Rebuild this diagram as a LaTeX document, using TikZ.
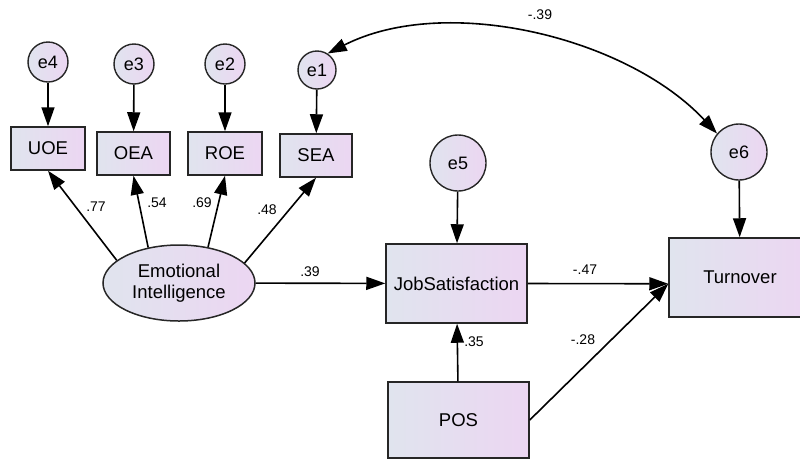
\documentclass[tikz,border=0pt]{standalone}
\usepackage{fontspec}
\setmainfont{Liberation Sans}
\usetikzlibrary{arrows.meta,shapes.geometric}

\definecolor{fillL}{RGB}{224,228,238}
\definecolor{fillR}{RGB}{236,214,242}

\tikzset{
  obs/.style={draw=black!85, line width=1.5pt, rectangle, left color=fillL, right color=fillR,
    font=\fontsize{18.5}{22}\selectfont, inner sep=0pt},
  err/.style={draw=black!85, line width=1.4pt, circle, left color=fillL, right color=fillR,
    font=\fontsize{18}{20}\selectfont, inner sep=0pt},
  lat/.style={draw=black!85, line width=1.5pt, ellipse, left color=fillL, right color=fillR,
    font=\fontsize{18.5}{21.5}\selectfont, align=center, inner sep=0pt},
  reg/.style={-{Triangle[length=19pt,width=13pt]}, line width=1.6pt},
  cov/.style={{Triangle[length=19pt,width=13pt]}-{Triangle[length=19pt,width=13pt]}, line width=1.6pt},
  coef/.style={font=\fontsize{14}{14}\selectfont, inner sep=0pt}
}

\begin{document}
\begin{tikzpicture}[x=1pt, y=-1pt]
  \clip (0,0) rectangle (800,459);

  % indicators and their errors
  \node[obs, minimum width=74, minimum height=43] (uoe) at (48,148.5) {UOE};
  \node[obs, minimum width=73, minimum height=43] (oea) at (133.5,153.5) {OEA};
  \node[obs, minimum width=74, minimum height=43] (roe) at (225,153.5) {ROE};
  \node[obs, minimum width=72, minimum height=43] (sea) at (316,155.5) {SEA};
  \node[err, minimum size=40] (e4) at (48,62) {e4};
  \node[err, minimum size=40] (e3) at (134,64) {e3};
  \node[err, minimum size=40] (e2) at (225,64) {e2};
  \node[err, minimum size=38] (e1) at (317,70) {e1};

  % latent and structural part
  \node[lat, minimum width=152, minimum height=76] (ei) at (179,283) {Emotional\\Intelligence};
  \node[obs, minimum width=141, minimum height=79] (js) at (456.5,283.5) {JobSatisfaction};
  \node[obs, minimum width=142, minimum height=79] (to) at (740,277.5) {Turnover};
  \node[obs, minimum width=141, minimum height=76] (pos) at (458.5,420) {POS};
  \node[err, minimum size=56] (e5) at (458,163) {e5};
  \node[err, minimum size=56] (e6) at (739,152) {e6};

  \draw[reg] (e4) -- (uoe);
  \draw[reg] (e3) -- (oea);
  \draw[reg] (e2) -- (roe);
  \draw[reg] (e1) -- (sea);
  \draw[reg] (ei.160) -- (uoe.south);
  \draw[reg] (ei.131) -- (oea.south);
  \draw[reg] (ei.51) -- (roe.south);
  \draw[reg] (ei.17) -- (sea.south);
  \draw[reg] (ei) -- (js);
  \draw[reg] (js.east) -- (to.185);
  \draw[reg] (pos.east) -- (to.185);
  \draw[reg] (pos) -- (js);
  \draw[reg] (e5) -- (js);
  \draw[reg] (e6) -- (to);
  \draw[cov] (e1.57) to[out=27, in=133, looseness=0.85] (e6.140);

  % estimates
  \node[coef] (c77) at (96,207) {.77};
  \node[coef] (c54) at (157,203) {.54};
  \node[coef] (c69) at (202,203) {.69};
  \node[coef] (c48) at (267,210) {.48};
  \node[coef] (c39) at (310,272) {.39};
  \node[coef] (c47) at (585,270) {-.47};
  \node[coef] (c35) at (474,342) {.35};
  \node[coef] (c28) at (583,340) {-.28};
  \node[coef] (cov16) at (540,15) {-.39};
\end{tikzpicture}
\end{document}
